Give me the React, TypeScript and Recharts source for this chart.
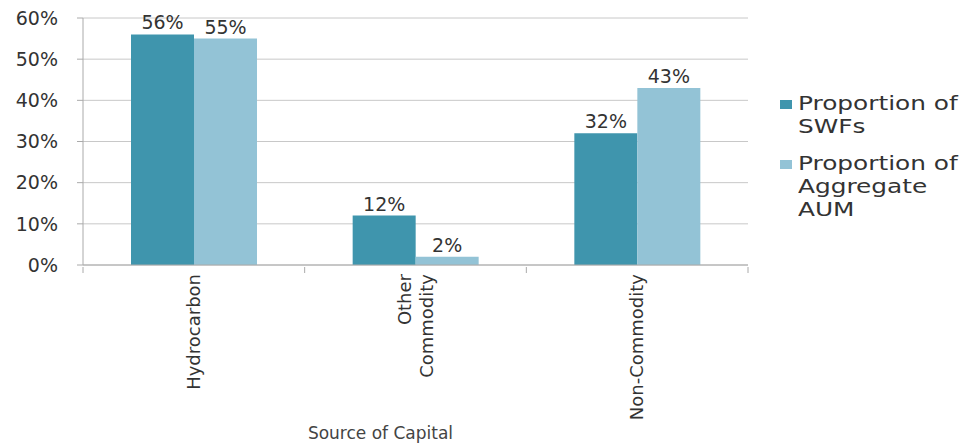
import { BarChart, Bar, XAxis, YAxis, CartesianGrid, Legend, LabelList, Label } from "recharts";

const categories = ["Hydrocarbon", "Other Commodity", "Non-Commodity"];
const tickLines: string[][] = [["Hydrocarbon"], ["Other", "Commodity"], ["Non-Commodity"]];
const swfShare = [0.56, 0.12, 0.32];
const aumShare = [0.55, 0.02, 0.43];
const yTicks = [0, 0.1, 0.2, 0.3, 0.4, 0.5, 0.6];

const seriesNames = ["Proportion of SWFs", "Proportion of Aggregate AUM"];
const legendLines = [["Proportion of", "SWFs"], ["Proportion of", "Aggregate", "AUM"]];

const DARK = "#3f95ad";
const LIGHT = "#93c3d6";
const FONT = "DejaVu Sans";
const TEXT = "#333";

const W = 965;
const H = 445;
const PLOT_LEFT = 83;
const PLOT_RIGHT = 748;
const BAND = (PLOT_RIGHT - PLOT_LEFT) / categories.length;

const data = categories.map((c, i) => ({ name: c, swf: swfShare[i], aum: aumShare[i] }));

const pct = (v: any) => `${Math.round(Number(v) * 100)}%`;

function CategoryTick(props: any) {
  const { x, y, index } = props;
  const lines = tickLines[index] || [];
  const top = y + 1;
  const n = lines.length;
  return (
    <g>
      <line x1={x - BAND / 2} x2={x - BAND / 2} y1={y - 6} y2={y} stroke="#aaa" />
      {index === categories.length - 1 && (
        <line x1={x + BAND / 2} x2={x + BAND / 2} y1={y - 6} y2={y} stroke="#aaa" />
      )}
      <text
        x={x}
        y={top}
        transform={`rotate(-90, ${x}, ${top})`}
        textAnchor="end"
        fontFamily={FONT}
        fontSize={18}
        fill={TEXT}
      >
        {lines.map((l, i) => (
          <tspan key={i} x={x} dy={i === 0 ? `${0.35 - (n - 1) * 0.6}em` : "1.2em"}>
            {l}
          </tspan>
        ))}
      </text>
    </g>
  );
}

function LegendBox() {
  const colors = [DARK, LIGHT];
  const tops = [92, 152];
  return (
    <div style={{ fontFamily: FONT, fontSize: 20, color: TEXT, lineHeight: "23px" }}>
      {seriesNames.map((s, i) => (
        <div key={s} style={{ position: "absolute", left: 0, top: tops[i] - 90, display: "flex" }}>
          <div style={{ width: 12, height: 9, background: colors[i], marginTop: 8, marginRight: 6 }} />
          <div style={{ whiteSpace: "nowrap", transform: "scaleX(1.24)", transformOrigin: "left top" }}>
            {legendLines[i].map((l) => (
              <div key={l}>{l}</div>
            ))}
          </div>
        </div>
      ))}
    </div>
  );
}

export default function App() {
  return (
    <div style={{ position: "absolute", left: 0, top: 0, width: W, height: H, background: "#fff" }}>
      <BarChart
        width={W}
        height={H}
        data={data}
        margin={{ top: 18, right: W - PLOT_RIGHT, left: 0, bottom: 0 }}
        barCategoryGap={48}
        barGap={0}
      >
        <CartesianGrid vertical={false} stroke="#c8c8c8" />
        <YAxis
          width={PLOT_LEFT}
          domain={[0, 0.6]}
          ticks={yTicks}
          tickFormatter={pct}
          tickSize={6}
          tickMargin={19}
          axisLine={{ stroke: "#aaa" }}
          tickLine={{ stroke: "#aaa" }}
          tick={{ fontFamily: FONT, fontSize: 19, fill: TEXT }}
        />
        <XAxis
          dataKey="name"
          height={180}
          interval={0}
          axisLine={{ stroke: "#aaa" }}
          tickLine={false}
          tick={<CategoryTick />}
        >
          <Label
            value="Source of Capital"
            position="insideBottom"
            dx={-35}
            offset={6}
            style={{ fontFamily: FONT, fontSize: 17, fill: "#444" }}
          />
        </XAxis>
        <Legend
          content={<LegendBox />}
          wrapperStyle={{ position: "absolute", left: 780, top: 90, width: 185 }}
        />
        <Bar dataKey="swf" name={seriesNames[0]} fill={DARK} isAnimationActive={false}>
          <LabelList dataKey="swf" position="top" formatter={pct} style={{ fontFamily: FONT, fontSize: 19, fill: TEXT }} />
        </Bar>
        <Bar dataKey="aum" name={seriesNames[1]} fill={LIGHT} isAnimationActive={false}>
          <LabelList dataKey="aum" position="top" formatter={pct} style={{ fontFamily: FONT, fontSize: 19, fill: TEXT }} />
        </Bar>
      </BarChart>
    </div>
  );
}
